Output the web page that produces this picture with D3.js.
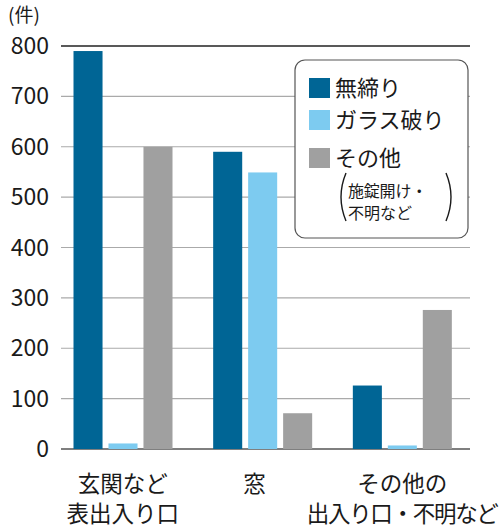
<!DOCTYPE html>
<html>
<head>
<meta charset="utf-8">
<script src="https://cdn.jsdelivr.net/npm/d3@7"></script>
<style>
  body { margin: 0; background: #fff; }
  text { font-family: "Noto Sans CJK JP", "Noto Sans", sans-serif; fill: #1a1a1a; }
</style>
</head>
<body>
<script>
(function chart(){
  // categories and series
  var categories = [["玄関など", "表出入り口"], ["窓"], ["その他の", "出入り口・不明など"]];
  var catKeys = ["玄関など表出入り口", "窓", "その他の出入り口・不明など"];
  var seriesNames = ["無締り", "ガラス破り", "その他"];
  var seriesColors = ["#006595", "#7dcbf0", "#a0a0a0"];
  var mushimari = [790, 590, 126];
  var glass = [11, 549, 7];
  var other = [600, 71, 276];
  var yTicks = [0, 100, 200, 300, 400, 500, 600, 700, 800];

  var values = [mushimari, glass, other];

  var svg = d3.select("body").append("svg")
    .attr("width", 500)
    .attr("height", 530);

  var y = d3.scaleLinear().domain([0, 800]).range([449, 46]);
  var x0 = d3.scaleBand().domain(catKeys).range([53, 472]);
  var x1 = d3.scaleBand().domain(seriesNames).range([20.5, 119.5]).paddingInner(0.17);

  // gridlines
  svg.selectAll(".grid").data(yTicks).enter().append("line")
    .attr("x1", 61).attr("x2", 470)
    .attr("y1", function(d){ return y(d); })
    .attr("y2", function(d){ return y(d); })
    .attr("stroke", function(d){ return d === 800 ? "#222" : (d === 0 ? "#555" : "#aaa"); })
    .attr("stroke-width", function(d){ return d === 0 || d === 800 ? 1.5 : 1.2; });

  // tick labels
  svg.selectAll(".tick").data(yTicks).enter().append("text")
    .attr("x", 49)
    .attr("y", function(d){ return y(d) + 8; })
    .attr("text-anchor", "end")
    .attr("font-size", 23)
    .text(function(d){ return d; });

  svg.append("text").attr("x", 8).attr("y", 22).attr("font-size", 19).text("(件)");

  // bars
  var groups = svg.selectAll(".grp").data(catKeys).enter().append("g")
    .attr("transform", function(d){ return "translate(" + x0(d) + ",0)"; });

  groups.selectAll("rect").data(function(d, i){
      return seriesNames.map(function(s, j){ return {s: s, v: values[j][i], c: seriesColors[j]}; });
    })
    .enter().append("rect")
    .attr("x", function(d){ return x1(d.s); })
    .attr("y", function(d){ return y(d.v); })
    .attr("width", x1.bandwidth())
    .attr("height", function(d){ return y(0) - y(d.v); })
    .attr("fill", function(d){ return d.c; });

  // category labels
  groups.each(function(d, i){
    var g = d3.select(this);
    categories[i].forEach(function(line, k){
      g.append("text")
        .attr("x", x0.bandwidth() / 2 - (i === 1 ? 8 : 0))
        .attr("y", 492 + k * 30)
        .attr("text-anchor", "middle")
        .attr("font-size", 22.5)
        .attr("letter-spacing", i === 2 && k === 1 ? -1.3 : 0)
        .text(line);
    });
  });

  // legend
  var leg = svg.append("g");
  leg.append("rect")
    .attr("x", 295).attr("y", 60).attr("width", 173).attr("height", 178)
    .attr("rx", 10).attr("ry", 10)
    .attr("fill", "#fff").attr("stroke", "#555").attr("stroke-width", 1.2);

  var legY = [78, 110, 148];
  seriesNames.forEach(function(s, j){
    leg.append("rect").attr("x", 309).attr("y", legY[j]).attr("width", 21).attr("height", 20)
      .attr("fill", seriesColors[j]);
    leg.append("text").attr("x", 335).attr("y", legY[j] + 18).attr("font-size", 22).text(s);
  });
  leg.append("text").attr("x", 348).attr("y", 197).attr("font-size", 16)
    .attr("letter-spacing", -0.2).text("施錠開け・");
  leg.append("text").attr("x", 348).attr("y", 219).attr("font-size", 16).text("不明など");

  // tall brackets round the two small lines
  leg.append("path").attr("d", "M346,173 Q336,197 346,221")
    .attr("fill", "none").attr("stroke", "#1a1a1a").attr("stroke-width", 1.4);
  leg.append("path").attr("d", "M446,173 Q456,197 446,221")
    .attr("fill", "none").attr("stroke", "#1a1a1a").attr("stroke-width", 1.4);
})();
</script>
</body>
</html>
